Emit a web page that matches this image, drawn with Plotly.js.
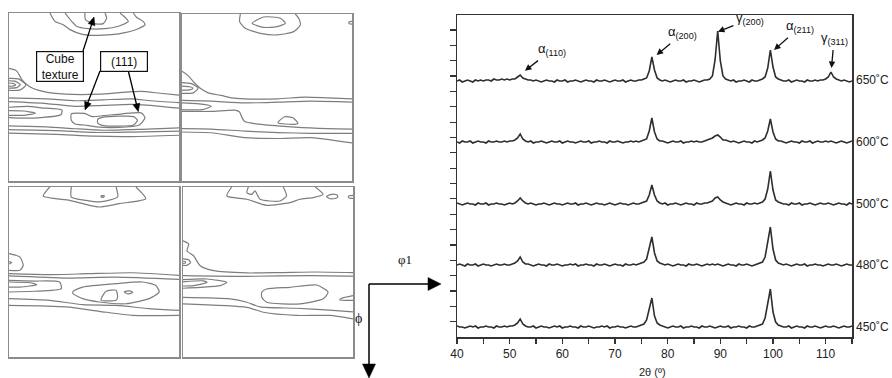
<!DOCTYPE html>
<html><head><meta charset="utf-8">
<script src="https://cdn.plot.ly/plotly-3.0.1.min.js"></script>
<style>html,body{margin:0;padding:0;background:#fff}#chart{width:892px;height:378px}</style>
</head><body><div id="chart"></div>
<script>
// ---------- XRD data (2θ in degrees, intensity in arbitrary units) ----------
const twoTheta = [40,40.5,41,41.5,42,42.5,43,43.5,44,44.5,45,45.5,46,46.5,47,47.5,48,48.5,49,49.5,50,50.5,
51,51.5,52,52.5,53,
53.5,54,54.5,55,55.5,56,56.5,57,57.5,58,58.5,59,59.5,60,60.5,61,61.5,62,62.5,63,63.5,64,64.5,65,65.5,66,66.5,67,67.5,68,68.5,69,69.5,70,70.5,71,71.5,72,72.5,73,73.5,74,74.5,75,75.5,
76,76.5,77,77.5,78,
78.5,79,79.5,80,80.5,81,81.5,82,82.5,83,83.5,84,84.5,85,85.5,86,86.5,87,87.5,88,
88.5,89,89.5,90,90.5,
91,91.5,92,92.5,93,93.5,94,94.5,95,95.5,96,96.5,97,97.5,98,
98.5,99,99.5,100,100.5,
101,101.5,102,102.5,103,103.5,104,104.5,105,105.5,106,106.5,107,107.5,108,108.5,109,109.5,
110,110.5,111,111.5,112,
112.5,113,113.5,114,114.5,115];

const temperatures = ['450˚C','480˚C','500˚C','600˚C','650˚C'];

const int450 = [1,0,0,-1,0,1,0,1,-1,0,0,1,0,0,-1,1,0,0,1,0,1,1,
2,4,8,3,1,
0,0,1,-1,0,1,0,0,-1,0,1,0,1,-1,0,0,1,0,0,-1,1,0,0,1,0,-1,0,0,1,0,1,-1,0,0,1,0,0,-1,0,1,0,0,1,2,3,
7,18,29,11,4,
2,1,0,-1,0,1,0,0,1,-1,0,0,1,0,0,-1,1,0,0,1,
0,-1,0,1,0,
0,1,-1,0,0,1,0,0,-1,1,0,0,1,2,3,
9,24,38,15,5,
2,1,0,0,1,-1,0,1,0,0,-1,1,0,0,1,0,-1,0,
1,0,0,1,0,
-1,0,1,0,0,1];

const int480 = [0,1,0,-1,1,0,0,1,-1,0,1,0,0,-1,0,1,0,0,1,0,0,1,
2,4,8,3,1,
1,0,-1,0,1,0,0,-1,1,0,0,1,0,-1,0,0,1,0,1,-1,0,0,1,0,0,-1,1,0,0,1,0,-1,0,1,0,0,-1,1,0,0,1,0,1,2,3,
6,16,28,12,4,
2,1,0,1,0,-1,0,1,0,0,-1,1,0,0,1,0,-1,0,1,0,
1,0,1,0,-1,
0,1,0,0,-1,1,0,0,1,0,-1,0,1,2,3,
8,22,38,16,5,
2,1,0,1,0,-1,0,1,0,0,1,-1,0,0,1,0,0,-1,
0,1,0,0,1,
0,-1,0,1,0,0];

const int500 = [1,0,-1,0,1,0,0,-1,1,0,0,1,-1,0,0,1,0,0,-1,0,1,0,
1,3,6,3,1,
0,1,0,-1,0,0,1,0,-1,0,1,0,0,-1,0,1,0,0,1,-1,0,0,1,0,-1,0,1,0,0,-1,0,1,0,-1,0,1,0,0,-1,0,1,0,0,1,2,
3,9,19,9,3,
1,0,1,-1,0,0,1,0,-1,0,1,0,0,-1,1,0,0,1,1,2,
3,6,7,4,2,
1,0,-1,0,1,0,0,-1,1,0,0,1,0,1,2,
5,15,33,14,4,
2,1,0,0,-1,1,0,0,1,-1,0,0,1,0,-1,0,1,0,
0,1,0,-1,0,
1,0,0,-1,1,0];

const int600 = [0,-1,1,0,0,1,-1,0,1,0,0,-1,1,0,0,1,0,0,1,0,1,1,
2,4,8,3,1,
0,1,-1,0,0,1,0,-1,0,1,0,0,1,-1,0,1,0,0,-1,0,1,0,0,1,-1,0,0,1,0,0,-1,1,0,0,1,0,-1,0,0,1,0,1,0,1,2,
3,11,24,10,3,
1,1,0,-1,0,1,0,0,1,-1,0,0,1,0,1,0,0,1,2,3,
4,6,7,5,2,
2,1,0,1,0,-1,0,1,0,0,-1,1,0,1,2,
4,11,23,10,3,
1,1,0,-1,0,1,0,0,-1,1,0,0,1,-1,0,1,0,0,
1,0,1,0,-1,
0,1,0,-1,0,1];

const int650 = [0,1,-1,0,1,0,-1,1,0,1,0,1,1,0,2,1,1,2,1,2,1,2,
2,4,6,3,2,
1,1,0,1,0,-1,0,1,0,0,-1,1,0,0,1,-1,0,0,1,0,-1,0,1,0,0,-1,1,0,0,1,0,-1,0,1,0,0,1,-1,0,1,0,0,1,1,2,
3,10,24,11,3,
1,0,1,0,-1,0,1,0,0,1,-1,0,0,1,0,-1,0,1,1,2,
5,21,50,20,5,
2,1,0,1,-1,0,0,1,0,-1,1,0,0,1,2,
4,13,31,14,4,
2,1,0,0,1,-1,0,1,0,0,-1,1,0,0,1,0,1,1,
2,4,9,4,2,
1,0,1,0,-1,0];

const intensities = [int450, int480, int500, int600, int650];
const stackOffsets = [10, 72, 133, 195, 256];

// Peak labels of the 650 °C pattern: text, arrow tip (2θ, intensity above baseline)
const peakLabels = ['α<sub>(110)</sub>','α<sub>(200)</sub>','γ<sub>(200)</sub>','α<sub>(211)</sub>','γ<sub>(311)</sub>'];
const peakTheta  = [52.9, 77.9, 89.55, 100.2, 111.1];
const peakTop    = [10.3, 26, 49.3, 31, 13];
// label box centres (2θ, intensity above baseline)
const labelTheta = [58.0, 82.9, 95.6, 105.1, 111.6];
const labelLevel = [31, 48, 62, 54, 42];

// ---------- ODF section contours (φ1, Φ in degrees) ----------
const contoursTL = [
 [[21.7,24.3,28.7,32.3,38.4,45.5,54.3,61.4,68.4,72,71,67.5,65.8],[0,4.5,6.3,8.9,11.3,12,11.6,10.5,8.4,6.3,4.5,2.3,0]],
 [[29.6,33.2,35.8,42,50.8,57.9,63.2,61.4,58.8],[0,4.5,7.1,8.4,8.4,7.1,4.5,2.3,0]],
 [[40.2,40.5,44.6,49.9,51.7,50.8],[0,3.6,5.7,5.7,2.7,0]],
 [[0,4,7,11,18,30,48,60,70,80,90],[29.7,31,36,39.5,42,43.5,43.5,42.5,42,43,44]],
 [[0,20,35,50,65,75,90],[45.5,46,47,46.5,46,47,48]],
 [[0,20,35,50,65,80,90],[47.5,48.5,50,49.5,49,50,51]],
 [[0,5,9,6,0],[35,35.3,38.5,41.2,41.5]],
 [[0,3,6,4,0],[36.3,36.5,38.3,40,40.2]],
 [[0,2,3.5,2,0],[37.5,37.7,38.5,39.2,39.2]],
 [[0,10,17,28,27.5,17,8,0],[50.5,50,50.8,52,54.5,56,56.3,56]],
 [[0,8,14,8,0],[52.3,52.5,53.7,54.8,54.8]],
 [[33,40,44,50,60,70,72,69,58,46,40,35,33,33],[54,53.8,55.5,55,54,53.5,56,60,61.3,61,60,59.5,57.5,54]],
 [[47,50,66,68,66,50,47,47],[57,55.8,55.5,57.5,60,60.3,59,57]],
 [[0,20,35,50,70,90],[60.5,61,62,62.8,62.3,61.5]],
 [[0,25,45,65,90],[62.5,63,64,63.8,63.3]],
 [[0,25,45,65,90],[64.3,65,66,66.2,65.5]]
];
const contoursTR = [
 [[30.9,30.5,33.5,41.5,50.3,59.1,62.7,61.8,60],[0,4.1,7.7,10.4,11.3,9.5,5.9,2.3,0]],
 [[37.1,43.2,52.1,54.7,50.3,43.2,37.1],[5,1.6,2.3,5,6.8,7.2,5]],
 [[90,88.5,88.5,90],[4,4.3,5.2,5.5]],
 [[0,3.2,6.7,9.3,13.8,20.8,26.1,33.2,50.8,64.9,77.2,90],[30.9,33.2,37.2,39.8,42.5,43.9,45.2,45.7,45.7,44.8,45.2,45.7]],
 [[0,15.5,33.2,50.8,68.4,90],[46.5,47,47.9,47.5,47,47.5]],
 [[0,4,5.8,4,0],[38.9,39.2,40,40.9,41]],
 [[0,5,8.5,6,0],[37,37.5,40,42.5,42.8]],
 [[0,8,15.5,11,0],[47.9,48.3,49.7,51.5,51.5]],
 [[0,15.5,28,30.5,31.4,33.2,42,59.6,77.2,90],[52.5,52.5,51.8,52.8,55,58,59.5,61,61.8,62]],
 [[50.8,54.3,58.7,61.4,59,50.8],[58.6,55.4,55.9,58.9,59.5,58.6]],
 [[0,15.5,33.2,50.8,68.4,90],[61.8,62,63.1,63.9,64.3,64.3]],
 [[0,15.5,33.2,50.8,68.4,90],[63.6,64,66.6,67.1,66.6,69.5]]
];
const contoursBL = [
 [[21.6,18.1,32.1,39.1,47.9,58.4,72.4,67.2],[0,4.8,7.1,8.8,10.6,8.8,6.2,0]],
 [[33,33,40.9,47.9,57.5,56.7],[0,5.3,7.1,7.9,5.3,0]],
 [[48.8,50.5,50,48.8,48.8],[4.6,4.8,5.5,5.3,4.6]],
 [[0,5.8,7.5,5.8,0],[35.3,37.1,41.5,44.1,44.1]],
 [[0,1.5,0],[39.5,40,40.8]],
 [[0,21.5,42,65,90],[45.9,46.4,45.9,45.4,46.8]],
 [[0,30.3,56.3,90],[47.1,48.2,47.7,48.9]],
 [[0,12.8,26.8,27.7,12.8,0],[49.4,49.8,50.3,53.8,55.2,55.6]],
 [[0,11,14.7,5.8,0],[50.3,50.7,51.7,53,53]],
 [[33.9,39.1,56.7,70.7,77.7,79.5,74.2,61.9,47.9,39.1,33.9,33.9],[55.2,53,51.2,50.3,52.1,55.6,59.1,61.8,60.9,59.1,56.5,55.2]],
 [[48.8,51.4,56.7,57.5,56.7,48.8,48.8],[59.1,55.2,54.7,58.2,60,60,59.1]],
 [[61,64,65.5,63,61],[55.5,55,55.8,56.6,55.5]],
 [[0,21.5,39.1,56.7,74.2,90],[59.1,60,62.3,62.7,64.4,65.3]],
 [[0,30.3,47.9,65.5,90],[62.7,63.5,65.8,68,68]]
];
const contoursBR = [
 [[25.8,23.2,33.8,44.3,56.6,61.9,68.9,74.2,70],[0,4.7,6.5,9.7,8.3,6.5,5.6,3.9,0]],
 [[34.6,33.8,36.4,38.1,40.8,51.3,54.8,53.1],[0,3,3.9,2.1,6.5,7.4,4.7,0]],
 [[76,78,81,82,81,78,76],[5,4,4,5,6,6.2,5]],
 [[90,88,87.5,88.5,90],[4.4,4.6,5.3,6,6]],
 [[0,3,2.1,5.6,9.1,16.2,33.8,51.3,70,90],[28.5,30.2,33.8,36.4,41.7,44.3,45.5,45.3,45,45.3]],
 [[0,3,4,2,0],[38,38.5,40,41.5,41.5]],
 [[0,1.2,1.2,0],[39.3,39.5,40.3,40.5]],
 [[0,33.8,68.9,90],[46.9,47.3,46.9,47.2]],
 [[0,12.7,23.2,19.7,9.1,0],[49,48.7,50.5,52.2,53.1,53.6]],
 [[0,10.9,12.7,5.6,0],[50.2,49.7,50.5,52.2,52.4]],
 [[41.7,44.3,56.6,70.7,76.8,74.2,61.9,44.3,41.7,41.7],[55.7,54,53.1,51.9,55.7,59.2,61.9,61,58.4,55.7]],
 [[90,84,83,90],[57.5,58.9,59.8,60]],
 [[0,25,33.8,40.8,60,77.5,90],[58.4,59.2,61,63.5,64.2,65.2,66.1]],
 [[0,33.8,42.6,60,77.5,90],[61.9,63.7,66.3,68,68,69.8]]
];

// ---------- build figure ----------
const W = 892, H = 378;
const px = v => v / W;
const py = v => 1 - v / H;
const SANS = 'Liberation Sans, Arial, sans-serif';
const SERIF = 'Liberation Serif, Times New Roman, serif';

const traces = [];
const panels = [
  {c: contoursTL, k: ''},
  {c: contoursTR, k: '2'},
  {c: contoursBL, k: '3'},
  {c: contoursBR, k: '4'}
];
panels.forEach(p => {
  p.c.forEach(c => traces.push({
    x: c[0], y: c[1], xaxis: 'x' + p.k, yaxis: 'y' + p.k,
    type: 'scatter', mode: 'lines',
    line: {color: '#7d7d7d', width: 1.2, shape: 'spline', smoothing: 0.6},
    hoverinfo: 'skip'
  }));
});

intensities.forEach((arr, i) => {
  traces.push({
    x: twoTheta, y: arr.map(v => v + stackOffsets[i]),
    xaxis: 'x5', yaxis: 'y5', type: 'scatter', mode: 'lines',
    line: {color: '#2e2e2e', width: 1.6}, name: temperatures[i], hoverinfo: 'skip'
  });
});

function panelAxes(x0, x1, y0, y1, k) {
  const common = {showgrid: false, zeroline: false, showticklabels: false, ticks: '',
    showline: true, mirror: true, linecolor: '#8c8c8c', linewidth: 1.5, fixedrange: true};
  const ax = Object.assign({domain: [px(x0), px(x1)], range: [0, 90], anchor: 'y' + k}, common);
  const ay = Object.assign({domain: [py(y1), py(y0)], range: [90, 0], anchor: 'x' + k}, common);
  return [ax, ay];
}
const [xa1, ya1] = panelAxes(9, 179, 13, 181, '');
const [xa2, ya2] = panelAxes(182, 352, 14, 181, '2');
const [xa3, ya3] = panelAxes(9, 179, 187, 357, '3');
const [xa4, ya4] = panelAxes(183, 353, 187, 357, '4');

const yTicks = [];
for (let k = 1; k <= 20; k++) yTicks.push(k * 15.35);

const annotations = [];
// peak labels with arrows (650 °C pattern)
peakLabels.forEach((t, i) => {
  annotations.push({
    xref: 'x5', yref: 'y5', axref: 'x5', ayref: 'y5',
    x: peakTheta[i], y: stackOffsets[4] + peakTop[i],
    ax: labelTheta[i], ay: stackOffsets[4] + labelLevel[i],
    text: t, showarrow: true, arrowhead: 2, arrowsize: 1, arrowwidth: 1.3,
    arrowcolor: '#111', standoff: 0, startstandoff: 1,
    font: {family: SANS, size: 13, color: '#111'}
  });
});
// temperature labels on the right
temperatures.forEach((t, i) => annotations.push({
  xref: 'paper', yref: 'y5', x: px(854), y: stackOffsets[i] + 0.5,
  text: t, showarrow: false, xanchor: 'left', yanchor: 'middle',
  font: {family: SANS, size: 12, color: '#222'}
}));
// boxes
annotations.push({xref: 'paper', yref: 'paper', x: px(60), y: py(66.7), xanchor: 'center', yanchor: 'middle',
  text: 'Cube<br>texture', showarrow: false, font: {family: SANS, size: 12, color: '#111'}, bgcolor: '#fff',
  bordercolor: '#111', borderwidth: 1.2, borderpad: 1, width: 44, height: 27});
annotations.push({xref: 'paper', yref: 'paper', x: px(123.5), y: py(62), xanchor: 'center', yanchor: 'middle',
  text: '(111)', showarrow: false, font: {family: SANS, size: 12, color: '#111'}, bgcolor: '#fff',
  bordercolor: '#111', borderwidth: 1.2, borderpad: 1, width: 44, height: 17});
// axis-direction labels
annotations.push({xref: 'paper', yref: 'paper', x: px(405), y: py(259), xanchor: 'center', yanchor: 'middle',
  text: 'φ1', showarrow: false, font: {family: SERIF, size: 13, color: '#111'}});
annotations.push({xref: 'paper', yref: 'paper', x: px(358), y: py(318), xanchor: 'center', yanchor: 'middle',
  text: 'ϕ', showarrow: false, font: {family: SERIF, size: 14, color: '#111'}});
// x-axis title
annotations.push({xref: 'paper', yref: 'paper', x: px(652), y: py(372), xanchor: 'center', yanchor: 'middle',
  text: '2θ (º)', showarrow: false, font: {family: SANS, size: 11, color: '#222'}});

// arrows drawn as shapes (pixel geometry of the figure)
const shapes = [];
function arrow(x1, y1, x2, y2, L, w, lw) {
  const dx = x2 - x1, dy = y2 - y1, len = Math.hypot(dx, dy);
  const ux = dx / len, uy = dy / len, nx = -uy, ny = ux;
  const bx = x2 - ux * L * 0.8, by = y2 - uy * L * 0.8;
  const tx = x2 - ux * L, ty = y2 - uy * L;
  shapes.push({type: 'line', xref: 'paper', yref: 'paper', x0: px(x1), y0: py(y1), x1: px(bx), y1: py(by),
    line: {color: '#000', width: lw}, layer: 'above'});
  shapes.push({type: 'path', xref: 'paper', yref: 'paper', layer: 'above',
    path: `M ${px(x2)} ${py(y2)} L ${px(tx + nx * w)} ${py(ty + ny * w)} L ${px(tx - nx * w)} ${py(ty - ny * w)} Z`,
    fillcolor: '#000', line: {color: '#000', width: 0.5}});
}
arrow(83, 51, 94, 17, 8, 3.5, 1.3);
arrow(100, 71, 85, 110, 8, 3.5, 1.3);
arrow(128.3, 71, 138.3, 111.7, 8, 3.5, 1.3);
arrow(369, 284, 441, 284, 13, 6.5, 1.5);
arrow(369, 284, 369, 378, 14, 6.5, 1.5);

const layout = {
  width: W, height: H, margin: {l: 0, r: 0, t: 0, b: 0},
  paper_bgcolor: '#fff', plot_bgcolor: 'rgba(0,0,0,0)', showlegend: false,
  xaxis: xa1, yaxis: ya1, xaxis2: xa2, yaxis2: ya2, xaxis3: xa3, yaxis3: ya3, xaxis4: xa4, yaxis4: ya4,
  xaxis5: {
    domain: [px(457), px(852)], anchor: 'y5', range: [40, 115],
    tickvals: [40, 50, 60, 70, 80, 90, 100, 110], ticks: 'outside', ticklen: 5, tickwidth: 1.2, tickcolor: '#333',
    minor: {dtick: 5, tick0: 40, ticks: 'outside', ticklen: 5, tickwidth: 1.2, tickcolor: '#333', showgrid: false},
    showline: true, mirror: true, linecolor: '#333', linewidth: 1.5,
    showgrid: false, zeroline: false,
    tickfont: {family: SANS, size: 12, color: '#222'}
  },
  yaxis5: {
    domain: [py(337), py(15)], anchor: 'x5', range: [0, 322],
    tickvals: yTicks, ticks: 'outside', ticklen: 6, tickwidth: 1.2, tickcolor: '#333',
    showticklabels: false, showline: true, mirror: true, linecolor: '#333', linewidth: 1.5,
    showgrid: false, zeroline: false
  },
  annotations: annotations,
  shapes: shapes
};

Plotly.newPlot('chart', traces, layout, {staticPlot: true, displayModeBar: false});
</script>
</body></html>
